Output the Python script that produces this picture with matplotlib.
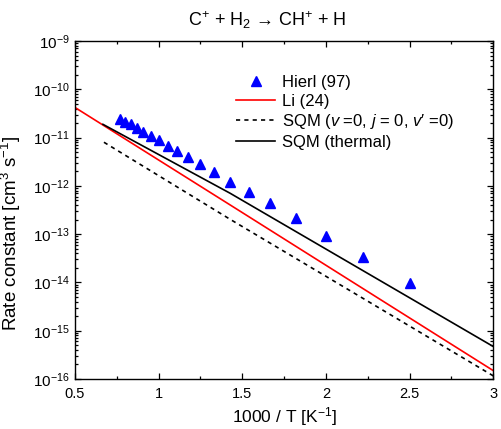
import matplotlib
matplotlib.use("Agg")
import matplotlib.pyplot as plt
from matplotlib.ticker import FixedLocator, MultipleLocator, NullFormatter

plt.rcParams['font.family'] = ['Liberation Sans', 'DejaVu Sans']
plt.rcParams['mathtext.fontset'] = 'custom'
plt.rcParams['mathtext.rm'] = 'Liberation Sans'
plt.rcParams['mathtext.it'] = 'Liberation Sans:italic'
plt.rcParams['mathtext.bf'] = 'Liberation Sans:bold'

# Hierl (97) experimental points
hierl_x = [0.769, 0.800, 0.833, 0.870, 0.909, 0.952, 1.000, 1.053, 1.111, 1.176,
           1.250, 1.333, 1.429, 1.538, 1.667, 1.818, 2.000, 2.222, 2.500]
hierl_k = [2.43e-11, 2.13e-11, 1.88e-11, 1.60e-11, 1.32e-11, 1.08e-11, 8.9e-12,
           6.8e-12, 5.35e-12, 3.91e-12, 2.80e-12, 1.91e-12, 1.22e-12, 7.6e-13,
           4.36e-13, 2.13e-13, 9.3e-14, 3.42e-14, 9.6e-15]

# Li (24)
li_x = [0.5, 1.427, 3.0]
li_k = [4.2e-11, 4.03e-13, 1.49e-16]

# SQM (v=0, j=0, v'=0)
sqm0_x = [0.673, 1.427, 3.0]
sqm0_k = [8.0e-12, 2.03e-13, 1.16e-16]

# SQM (thermal)
sqmt_x = [0.667, 1.427, 3.0]
sqmt_k = [1.88e-11, 7.03e-13, 4.7e-16]

x_ticks = [0.5, 1, 1.5, 2, 2.5, 3]
x_ticklabels = ['0.5', '1', '1.5', '2', '2.5', '3']
y_exponents = [-16, -15, -14, -13, -12, -11, -10, -9]

fig = plt.figure(figsize=(5.01, 4.29), dpi=100)
ax = fig.add_axes([75/501, 1-379/429, (493.3-75)/501, (379-41)/429])

ax.plot(hierl_x, hierl_k, linestyle='none', marker='^', markersize=7,
        color='#0000ff', label='Hierl (97)')
ax.plot(li_x, li_k, color='#ff0000', lw=1.2, label='Li (24)')
ax.plot(sqm0_x, sqm0_k, color='black', lw=1.2, linestyle=(0, (2.5, 2.5)),
        label="SQM ($v$ =0, $j$ = 0, $v$\u2032 =0)")
ax.plot(sqmt_x, sqmt_k, color='black', lw=1.2, label='SQM (thermal)')

ax.set_yscale('log')
ax.set_xlim(0.5, 3.0)
ax.set_ylim(1e-16, 1e-9)
ax.xaxis.set_minor_locator(MultipleLocator(0.25))
ax.set_xticks(x_ticks)
ax.set_xticklabels(x_ticklabels)

major_y = [10.0**e for e in y_exponents]
minor_y = [m * 10.0**e for e in y_exponents[:-1] for m in range(2, 10)]
ax.yaxis.set_major_locator(FixedLocator(major_y))
ax.yaxis.set_minor_locator(FixedLocator(minor_y))
ax.set_yticklabels(['$10^{%d}$' % e for e in y_exponents])
ax.yaxis.set_minor_formatter(NullFormatter())

ax.tick_params(which='both', direction='in', top=True, right=True,
               width=0.9, colors='black')
ax.tick_params(axis='x', labelsize=10.5, pad=6)
ax.tick_params(axis='y', labelsize=11, pad=4)
ax.tick_params(which='major', length=4.5)
ax.tick_params(which='minor', length=2.2)
for s in ax.spines.values():
    s.set_linewidth(1.0)

fig.text(285/501, 1-417/429, '1000 / T [K$^{-1}$]', ha='center', va='center', fontsize=12.5)
fig.text(11/501, 1-233/429, 'Rate constant [cm$^3$ s$^{-1}$]', ha='center', va='center',
         rotation=90, fontsize=13.5)
fig.text(267/501, 1-20/429, 'C$^{+}$ + H$_2$ \u2192 CH$^{+}$ + H', ha='center', va='center',
         fontsize=13)

leg = ax.legend(loc='upper left', bbox_to_anchor=(236/501, 1-75/429),
                bbox_transform=fig.transFigure, frameon=False, fontsize=12,
                borderpad=0, borderaxespad=0, handlelength=2.35, handletextpad=0.4,
                labelspacing=0.22)

fig.savefig('out.png', dpi=100)
